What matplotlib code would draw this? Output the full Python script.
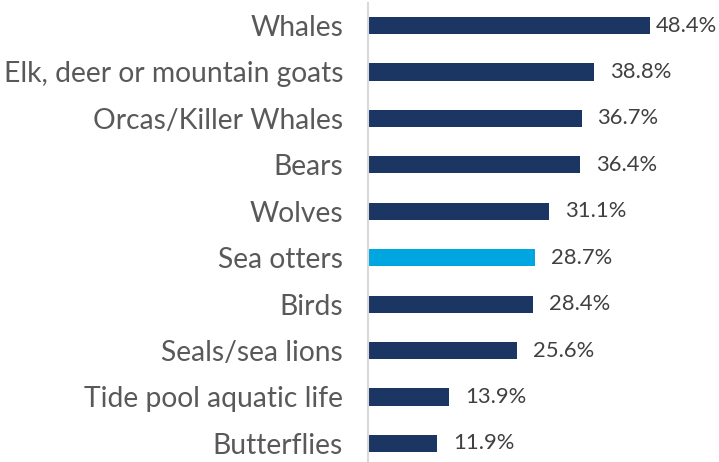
import matplotlib.pyplot as plt

# Wildlife seen, share of respondents (%)
animals = ['Whales', 'Elk, deer or mountain goats', 'Orcas/Killer Whales', 'Bears',
           'Wolves', 'Sea otters', 'Birds', 'Seals/sea lions',
           'Tide pool aquatic life', 'Butterflies']
shares = [48.4, 38.8, 36.7, 36.4, 31.1, 28.7, 28.4, 25.6, 13.9, 11.9]
highlight = 'Sea otters'

navy = '#1B3663'
cyan = '#00A6E0'
colors = [cyan if a == highlight else navy for a in animals]

plt.rcParams['font.family'] = ['Lato', 'DejaVu Sans']

fig = plt.figure(figsize=(7.19, 4.62), dpi=100)
ax = fig.add_axes([368 / 719, 0, 351 / 719, 459 / 462])

ypos = list(range(len(animals)))
ax.barh(ypos, shares, height=0.37, color=colors)

xmax = 48.4 * 351 / 282
ax.set_xlim(0, xmax)
ax.set_ylim(9.40, -0.485)

# value labels, pulled back in when they would run off the right edge
for y, v in zip(ypos, shares):
    x = min(v + 2.7, xmax - 10.9)
    ax.text(x, y, f'{v:.1f}%', va='center', ha='left', fontsize=15.8,
            color='#404040')

ax.set_yticks(ypos)
ax.set_yticklabels(animals, fontsize=20.3, color='#595959')
ax.tick_params(axis='y', length=0, pad=18)
ax.set_xticks([])

for side in ['top', 'right', 'bottom']:
    ax.spines[side].set_visible(False)
ax.spines['left'].set_color('#D9D9D9')
ax.spines['left'].set_linewidth(1.5)

fig.savefig('out.png', dpi=100)
